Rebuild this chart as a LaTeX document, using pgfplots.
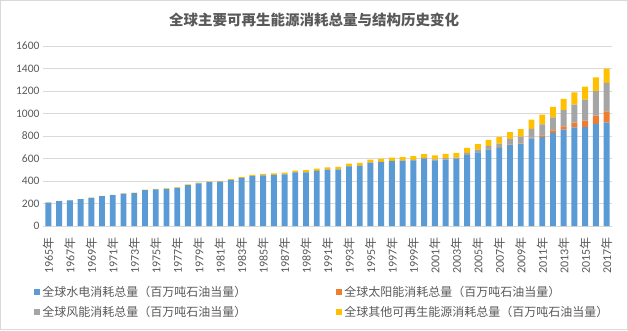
\documentclass[border=0pt]{standalone}
\usepackage{pgfplots}
\usepackage{pgfplotstable}
\pgfplotsset{compat=1.18}
\usepackage{fontspec}
\setmainfont{Carlito}
\newfontfamily\cjk{Noto Sans CJK SC}
\newcommand\nian{{\cjk 年}}
\definecolor{txt}{HTML}{595959}
\definecolor{gridc}{HTML}{D9D9D9}
\definecolor{cHydro}{HTML}{5B9BD5}
\definecolor{cSolar}{HTML}{ED7D31}
\definecolor{cWind}{HTML}{A5A5A5}
\definecolor{cOther}{HTML}{FFC000}
\pgfplotsset{sqlegend/.style={legend image code/.code={\fill[##1] (0pt,-3pt) rectangle (6pt,3pt);}}}

\pgfplotstableread{
year hydro solar wind other
1965 208 0 0 1
1966 222 0 0 1
1967 228 0 0 1
1968 238 0 0 1.5
1969 251 0 0 2
1970 265 0 0 2
1971 275 0 0 2.5
1972 288 0 0 3
1973 293 0 0 3
1974 320 0 0 3.5
1975 325 0 0 4
1976 330 0 0 4
1977 338 0 0 5
1978 364 0 0 5.5
1979 380 0 0 6
1980 389 0 0 7
1981 394 0 0 8
1982 408 0 0 9
1983 427 0 0 10
1984 443 0 0 11
1985 451 0 0 12
1986 455 0 0 13
1987 460 0 0 15
1988 476 0 0.1 17
1989 477 0 0.5 19
1990 489 0.1 0.8 21
1991 499 0.1 1.0 22
1992 502 0.1 1.1 23
1993 530 0.1 1.4 24
1994 534 0.1 1.6 25
1995 561 0.1 1.8 27
1996 567 0.1 2.0 28
1997 576 0.2 2.7 30
1998 578 0.2 3.6 31
1999 583 0.2 4.8 33
2000 597 0.3 7.2 34
2001 584 0.3 8.7 35
2002 591 0.4 11.9 38
2003 594 0.5 14.3 41
2004 630 0.6 19.2 45
2005 654 0.9 23.6 50
2006 680 1.3 30.0 54
2007 692 1.7 38.6 58
2008 720 2.8 50.0 62
2009 727 4.5 62.2 68
2010 778 7.7 77.8 81
2011 791 14.5 98.0 86
2012 827 22.4 117.0 92
2013 856 29.9 144.2 100
2014 876 42.5 160.6 108
2015 880 56.5 187.9 115
2016 908 74.0 217.5 121
2017 918 100.0 253.3 127
}\datatable

\begin{document}
\begin{tikzpicture}[x=1pt,y=1pt]
\useasboundingbox (0,0) rectangle (628,330);
\draw[color=gridc] (0.5,0.5) rectangle (627.5,329.5);
\node[font=\cjk\bfseries\fontsize{14.5}{16}\selectfont, text=txt] at (314,310) {全球主要可再生能源消耗总量与结构历史变化};
\begin{axis}[
  at={(43pt,104pt)}, anchor=south west,
  scale only axis, width=569pt, height=180pt,
  ybar stacked, bar width=5.9pt,
  xmin=1964.5, xmax=2017.5, ymin=0, ymax=1600,
  ytick={0,200,...,1600},
  xtick={1965,1967,...,2017},
  xticklabels={1965\nian,1967\nian,1969\nian,1971\nian,1973\nian,1975\nian,1977\nian,1979\nian,1981\nian,1983\nian,1985\nian,1987\nian,1989\nian,1991\nian,1993\nian,1995\nian,1997\nian,1999\nian,2001\nian,2003\nian,2005\nian,2007\nian,2009\nian,2011\nian,2013\nian,2015\nian,2017\nian},
  ymajorgrids, grid style={color=gridc, line width=0.8pt},
  axis line style={draw=none},
  major tick length=0pt,
  yticklabel style={font=\fontsize{11.5}{13}\selectfont, text=txt},
  xticklabel style={font=\fontsize{12}{14}\selectfont, text=txt, rotate=90, anchor=east},
  /pgf/number format/assume math mode=true,
  /pgf/number format/1000 sep={},
  xticklabel shift=8pt,
  legend style={at={(-0.021,-0.31)}, anchor=north west, draw=none, fill=none,
    legend columns=2, font=\cjk\fontsize{12}{14}\selectfont, text=txt,
    /tikz/every even column/.append style={column sep=88pt}, row sep=4pt},
  legend cell align=left,
]
\addplot[fill=cHydro, draw=none, sqlegend] table[x=year,y=hydro] {\datatable};
\addlegendentry{全球水电消耗总量（百万吨石油当量）}
\addplot[fill=cSolar, draw=none, sqlegend] table[x=year,y=solar] {\datatable};
\addlegendentry{全球太阳能消耗总量（百万吨石油当量）}
\addplot[fill=cWind, draw=none, sqlegend] table[x=year,y=wind] {\datatable};
\addlegendentry{全球风能消耗总量（百万吨石油当量）}
\addplot[fill=cOther, draw=none, sqlegend] table[x=year,y=other] {\datatable};
\addlegendentry{全球其他可再生能源消耗总量（百万吨石油当量）}
\end{axis}
\end{tikzpicture}
\end{document}
